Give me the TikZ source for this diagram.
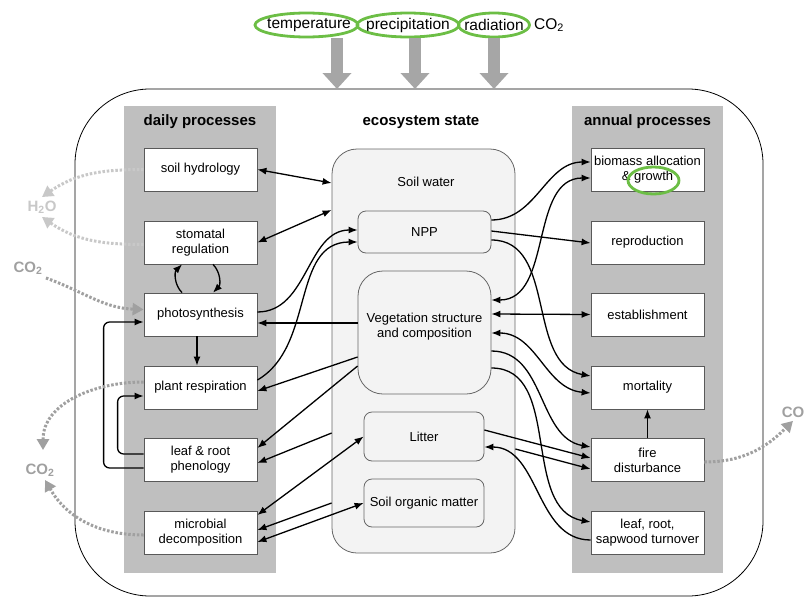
\documentclass[tikz,border=0pt]{standalone}
\usepackage{fontspec}
\setmainfont{Liberation Sans}
\usetikzlibrary{positioning, calc, arrows.meta}
\usepackage{xcolor}

\definecolor{colgray}{HTML}{BFBFBF}
\definecolor{boxline}{HTML}{595959}
\definecolor{poolfill}{HTML}{F3F3F3}
\definecolor{poolline}{HTML}{666666}
\definecolor{ringgreen}{HTML}{6CBE45}
\definecolor{forcegray}{HTML}{A6A6A6}
\definecolor{fluxgray}{HTML}{A0A0A0}
\definecolor{watergray}{HTML}{C8C8C8}

\begin{document}
\begin{tikzpicture}[x=1pt, y=1pt,
    txt/.style={font=\fontsize{13}{15}\selectfont},
    proc/.style={txt, draw=boxline, line width=0.8pt, fill=white, minimum width=113pt, minimum height=43pt, inner sep=1pt, align=center},
    pool/.style={txt, draw=poolline, line width=0.8pt, fill=poolfill, rounded corners=8pt, align=center},
    head/.style={font=\fontsize{15}{18}\selectfont\bfseries},
    driver/.style={font=\fontsize{15.5}{18}\selectfont},
    fluxlabel/.style={font=\fontsize{15}{18}\selectfont\bfseries},
    oneway/.style={line width=1.3pt, -{Latex[length=9pt,width=7pt]}},
    twoway/.style={line width=1.3pt, {Latex[length=9pt,width=7pt]}-{Latex[length=9pt,width=7pt]}},
    flux/.style={line width=3pt, dash pattern=on 2.5pt off 1.8pt, -{Triangle[length=11pt,width=12pt]}},
    ring/.style={draw=ringgreen, line width=2.8pt},
    forcing/.style={draw=forcegray, line width=12pt, -{Triangle[length=16pt,width=28pt]}}]

\useasboundingbox (0,0) rectangle (805,-597);

% frame and the two process columns
\draw[line width=0.8pt, rounded corners=75pt] (75,-89) rectangle (763,-596);
\fill[colgray] (124,-106) rectangle (276,-573);
\fill[colgray] (572,-106) rectangle (723,-573);

% climate drivers
\node[driver] (temp) at (309,-25) {temperature};
\node[driver] (precip) at (408,-25) {precipitation};
\node[driver] (rad) at (494,-25) {radiation};
\node[driver] (cotop) at (549,-25) {CO\textsubscript{2}};
\draw[ring] ([xshift=-2.5pt]temp.center) ellipse (51.5pt and 12pt);
\draw[ring] (precip.center) ellipse (51pt and 12pt);
\draw[ring] (rad.center) ellipse (35.5pt and 12pt);
\coordinate (tin) at (337,-38);
\coordinate (tout) at (337,-89);
\coordinate (pin) at (415,-38);
\coordinate (pout) at (415,-89);
\coordinate (rin) at (494,-38);
\coordinate (rout) at (494,-89);
\draw[forcing] (tin) -- (tout);
\draw[forcing] (pin) -- (pout);
\draw[forcing] (rin) -- (rout);

% column headers
\node[head] (hdaily) at (200,-122) {daily processes};
\node[head] (hstate) at (421,-122) {ecosystem state};
\node[head] (hannual) at (647.5,-122) {annual processes};

% daily processes
\node[proc] (hydro) at (200.5,-169.5) {soil hydrology};
\node[proc] (stomata) at (200.5,-242.5) {stomatal\\regulation};
\node[proc] (photo) at (200.5,-314.5) {photosynthesis};
\node[proc] (resp) at (200.5,-387.5) {plant respiration};
\node[proc] (phen) at (200.5,-460) {leaf \& root\\phenology};
\node[proc] (decomp) at (200.5,-532.5) {microbial\\decomposition};

% annual processes
\node[proc] (growth) at (647.5,-169.5) {biomass allocation\\\& growth};
\node[proc] (repro) at (647.5,-242.5) {reproduction};
\node[proc] (estab) at (647.5,-314.5) {establishment};
\node[proc] (mort) at (647.5,-387.5) {mortality};
\node[proc] (fire) at (647.5,-460) {fire\\disturbance};
\node[proc] (turnover) at (647.5,-532.5) {leaf, root,\\sapwood turnover};
\draw[ring] ([xshift=6pt,yshift=-11pt]growth.center) ellipse (25.5pt and 13.5pt);

% ecosystem state
\node[pool, rounded corners=25pt, minimum width=183pt, minimum height=404pt] (soilwater) at (423.5,-351) {};
\node[txt] (swtext) at (426,-182) {Soil water};
\node[pool, minimum width=133pt, minimum height=42pt] (npp) at (424.5,-232) {NPP};
\node[pool, rounded corners=25pt, minimum width=133pt, minimum height=123pt, text depth=15pt] (veg) at (424.5,-332.5) {Vegetation structure\\and composition};
\node[pool, minimum width=120pt, minimum height=49pt] (litter) at (424,-436.5) {Litter};
\node[pool, minimum width=120pt, minimum height=48pt] (som) at (424,-503) {Soil organic matter};

% daily processes <-> ecosystem state
\draw[twoway] (hydro.east) -- ([yshift=168pt]soilwater.west);
\draw[twoway] (stomata.east) -- ([yshift=141pt]soilwater.west);
\draw[oneway] ([yshift=2.5pt]photo.east) to[out=0, in=180] ([yshift=2pt]npp.west);
\draw[oneway] ([yshift=7.5pt]resp.east) to[out=30, in=180] ([yshift=-10pt]npp.west);
\draw[oneway] ([yshift=9.5pt]veg.west) -- ([yshift=-8.5pt]photo.east);
\draw[oneway] ([yshift=-24.5pt]veg.west) -- ([yshift=-3.5pt]resp.east);
\draw[oneway] ([yshift=-33.5pt]veg.west) -- ([yshift=12pt]phen.east);
\draw[oneway] ([yshift=-82pt]soilwater.west) -- ([yshift=-3pt]phen.east);
\draw[twoway] (litter.west) -- ([yshift=17.5pt]decomp.east);
\draw[oneway] ([yshift=-152pt]soilwater.west) -- ([yshift=2.5pt]decomp.east);
\draw[twoway] (som.west) -- ([yshift=-9.5pt]decomp.east);

% inside the daily column
\draw[oneway] ([xshift=-18.5pt]photo.north) to[out=135, in=-135] ([xshift=-18.5pt]stomata.south);
\draw[oneway] ([xshift=12.5pt]stomata.south) to[out=-45, in=45] ([xshift=12.5pt]photo.north);
\draw[oneway] ([xshift=-3.5pt]photo.south) -- ([xshift=-3.5pt]resp.north);
\draw[oneway, rounded corners=6pt] ([yshift=6pt]phen.west) -- ++(-26,0) |- ([yshift=-8.5pt]resp.west);
\draw[oneway, rounded corners=6pt] ([yshift=-8pt]phen.west) -- ++(-40,0) |- ([yshift=-7.5pt]photo.west);

% ecosystem state <-> annual processes
\draw[oneway] ([yshift=12pt]npp.east) to[out=0, in=180] ([yshift=7.5pt]growth.west);
\draw[twoway] ([yshift=32.5pt]veg.east) to[out=0, in=180] ([yshift=-8.5pt]growth.west);
\draw[oneway] ([yshift=1pt]npp.east) -- ([yshift=-0.5pt]repro.west);
\draw[oneway] ([yshift=-8pt]npp.east) to[out=0, in=170] ([yshift=11.5pt]mort.west);
\draw[twoway] ([yshift=18.5pt]veg.east) -- (estab.west);
\draw[twoway] ([yshift=-0.5pt]veg.east) to[out=0, in=175] ([yshift=-5.5pt]mort.west);
\draw[oneway] ([yshift=-18.5pt]veg.east) to[out=0, in=170] ([yshift=13pt]fire.west);
\draw[oneway] ([yshift=-35.5pt]veg.east) to[out=0, in=170] ([yshift=10.5pt]turnover.west);
\draw[oneway] ([yshift=6.5pt]litter.east) -- ([yshift=2pt]fire.west);
\draw[oneway] ([yshift=-98pt]soilwater.east) -- ([yshift=-9pt]fire.west);
\draw[oneway] ([yshift=-7.5pt]turnover.west) to[out=180, in=0] ([yshift=-10.5pt]litter.east);
\draw[oneway] (fire.north) -- (mort.south);

% exchange with the atmosphere
\node[fluxlabel, text=watergray] (htwo) at (42,-207) {H\textsubscript{2}O};
\node[fluxlabel, text=fluxgray] (coleft) at (28,-268) {CO\textsubscript{2}};
\node[fluxlabel, text=fluxgray] (colow) at (40,-470) {CO\textsubscript{2}};
\node[fluxlabel, text=fluxgray] (coright) at (793,-412) {CO};
\draw[flux, draw=watergray] (hydro.west) to[out=180, in=35] (htwo.north);
\draw[flux, draw=watergray] ([yshift=-2pt]stomata.west) to[out=180, in=-35] (htwo.south);
\draw[flux, draw=fluxgray] (coleft.south east) to[out=-20, in=178] ([yshift=5pt]photo.west);
\draw[flux, draw=fluxgray] ([yshift=5.5pt]resp.west) to[out=180, in=90] ([xshift=3pt,yshift=10pt]colow.north);
\draw[flux, draw=fluxgray] ([yshift=-2.5pt]decomp.west) to[out=180, in=-60] ([xshift=5pt]colow.south);
\draw[flux, draw=fluxgray] ([yshift=-2pt]fire.east) to[out=0, in=-135] (coright.south);

\end{tikzpicture}
\end{document}
